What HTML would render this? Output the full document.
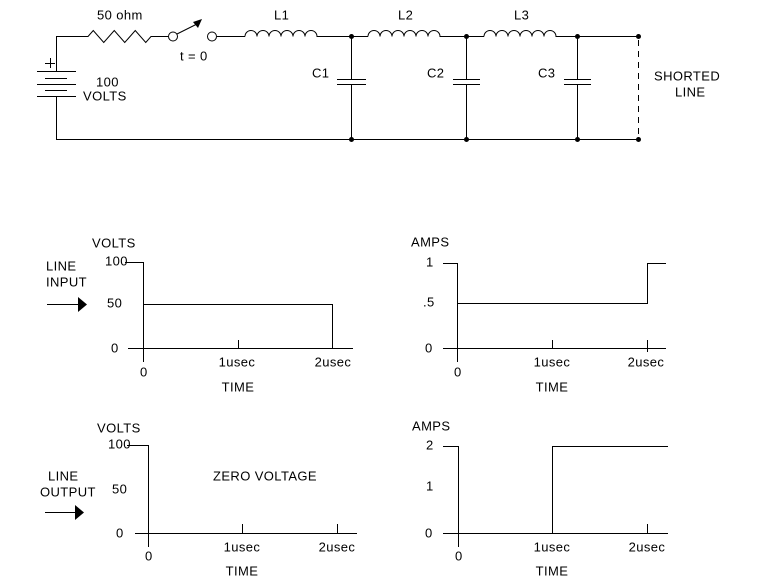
<!DOCTYPE html>
<html><head><style>
html,body{margin:0;padding:0;background:#fff;}
svg{display:block;}
text{font-family:"Liberation Sans",sans-serif;font-size:13px;letter-spacing:0.4px;fill:#000;}
</style></head><body>
<svg width="767" height="586" viewBox="0 0 767 586" xmlns="http://www.w3.org/2000/svg">
<g stroke="#000" stroke-width="1" fill="none">
<!-- circuit -->
<path d="M56.5 71V36.5H88l5.25-6 10.5 12 10.5-12 10.5 12 10.5-12 10.5 12 5.25-6H168"/>
<path d="M56.5 96V139.5H638"/>
<line x1="37" y1="71.5" x2="76" y2="71.5"/>
<line x1="45" y1="78.5" x2="67" y2="78.5"/>
<line x1="37" y1="84.5" x2="76" y2="84.5"/>
<line x1="45" y1="90.5" x2="67" y2="90.5"/>
<line x1="37" y1="96.5" x2="76" y2="96.5"/>
<line x1="45" y1="63.5" x2="55" y2="63.5"/>
<line x1="50.5" y1="58" x2="50.5" y2="68"/>
<circle cx="173" cy="36.5" r="4.5"/>
<circle cx="212" cy="36.5" r="4.5"/>
<line x1="177" y1="34" x2="197" y2="24"/>
<path d="M217 36.5H245"/>
<path d="M245 36.5a6 6 0 0 1 12 0a6 6 0 0 1 12 0a6 6 0 0 1 12 0a6 6 0 0 1 12 0a6 6 0 0 1 12 0a6 6 0 0 1 12 0H368"/>
<path d="M368 36.5a6 6 0 0 1 12 0a6 6 0 0 1 12 0a6 6 0 0 1 12 0a6 6 0 0 1 12 0a6 6 0 0 1 12 0a6 6 0 0 1 12 0H484"/>
<path d="M484 36.5a6 6 0 0 1 12 0a6 6 0 0 1 12 0a6 6 0 0 1 12 0a6 6 0 0 1 12 0a6 6 0 0 1 12 0a6 6 0 0 1 12 0H638"/>
<path d="M351.5 36.5V79M351.5 85V139.5M337 79.5H366M337 84.5H366"/>
<path d="M466.5 36.5V79M466.5 85V139.5M453 79.5H480M453 84.5H480"/>
<path d="M577.5 36.5V79M577.5 85V139.5M564 79.5H591M564 84.5H591"/>
<line x1="638.5" y1="40" x2="638.5" y2="136" stroke-dasharray="6,5"/>
<!-- graph1 -->
<path d="M125 262.5H143.5V362M128 348.5H353M143.5 304.5H332.5V348.5M238.5 340V348.5M47 304.5H78"/>
<!-- graph2 -->
<path d="M443 263.5H457.5V362M443 348.5H666M457.5 303.5H647.5V263.5H666M552.5 340V348.5M647.5 340V352"/>
<!-- graph3 -->
<path d="M127 445.5H148.5V547M135 533.5H357M242.5 524V533.5M337.5 524V533.5M45 512.5H75"/>
<!-- graph4 -->
<path d="M443 446.5H458.5V547M443 533.5H668M552.5 533.5V446.5H668M647.5 524V533.5"/>
</g>
<g fill="#000">
<polygon points="193,22 202,19 198,28"/>
<circle cx="351.5" cy="36.5" r="2.5"/><circle cx="351.5" cy="139.5" r="2.5"/>
<circle cx="466.5" cy="36.5" r="2.5"/><circle cx="466.5" cy="139.5" r="2.5"/>
<circle cx="577.5" cy="36.5" r="2.5"/><circle cx="577.5" cy="139.5" r="2.5"/>
<circle cx="638.5" cy="36.5" r="2.5"/><circle cx="638.5" cy="139.5" r="2.5"/>
<polygon points="78,297 87,304.5 78,312"/>
<polygon points="75,505 84,512.5 75,520"/>
</g>
<g dominant-baseline="middle">
<text x="97" y="16">50 ohm</text>
<text x="274" y="16">L1</text>
<text x="398" y="16">L2</text>
<text x="514" y="16">L3</text>
<text x="180" y="57">t = 0</text>
<text x="96" y="83">100</text>
<text x="83" y="97">VOLTS</text>
<text x="312" y="74">C1</text>
<text x="427" y="74">C2</text>
<text x="538" y="74">C3</text>
<text x="654" y="77">SHORTED</text>
<text x="675" y="93">LINE</text>

<text x="92" y="244">VOLTS</text>
<text x="105" y="262">100</text>
<text x="107" y="304">50</text>
<text x="111" y="349">0</text>
<text x="140" y="373">0</text>
<text x="237" y="363" text-anchor="middle">1usec</text>
<text x="333" y="363" text-anchor="middle">2usec</text>
<text x="238" y="388" text-anchor="middle">TIME</text>
<text x="46" y="267">LINE</text>
<text x="46" y="283">INPUT</text>

<text x="411" y="243">AMPS</text>
<text x="426" y="263">1</text>
<text x="423" y="303">.5</text>
<text x="425" y="349">0</text>
<text x="454" y="373">0</text>
<text x="552" y="363" text-anchor="middle">1usec</text>
<text x="646" y="363" text-anchor="middle">2usec</text>
<text x="552" y="388" text-anchor="middle">TIME</text>

<text x="97" y="429">VOLTS</text>
<text x="108" y="445">100</text>
<text x="112" y="490">50</text>
<text x="116" y="534">0</text>
<text x="145" y="557">0</text>
<text x="242" y="548" text-anchor="middle">1usec</text>
<text x="337" y="548" text-anchor="middle">2usec</text>
<text x="242" y="572" text-anchor="middle">TIME</text>
<text x="213" y="477">ZERO VOLTAGE</text>
<text x="48" y="477">LINE</text>
<text x="40" y="493">OUTPUT</text>

<text x="412" y="427">AMPS</text>
<text x="426" y="446">2</text>
<text x="426" y="487">1</text>
<text x="425" y="534">0</text>
<text x="455" y="557">0</text>
<text x="552" y="548" text-anchor="middle">1usec</text>
<text x="647" y="548" text-anchor="middle">2usec</text>
<text x="552" y="572" text-anchor="middle">TIME</text>
</g>
</svg>
</body></html>
